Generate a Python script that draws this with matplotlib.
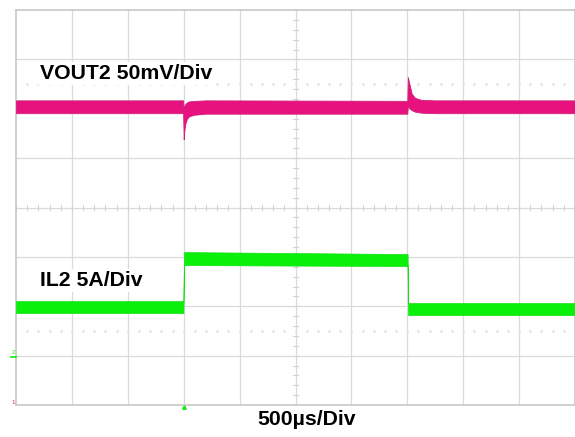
import matplotlib
matplotlib.use("Agg")
import matplotlib.pyplot as plt
import numpy as np

# ---- data (in scope divisions; x: 0..10 div, y: 0..8 div) ----
vout_t  = [0.00, 2.99, 3.00, 3.01, 3.03, 3.06, 3.10, 3.20, 3.40, 7.00, 7.01, 7.03, 7.08, 7.14, 7.25, 7.50, 10.00]
vout_hi = [6.17, 6.17, 5.95, 6.05, 6.10, 6.13, 6.15, 6.16, 6.17, 6.16, 6.64, 6.54, 6.30, 6.22, 6.18, 6.17, 6.17]
vout_lo = [5.91, 5.91, 5.38, 5.55, 5.70, 5.80, 5.85, 5.88, 5.90, 5.90, 6.07, 6.02, 5.97, 5.94, 5.92, 5.91, 5.91]

il_t  = [0.00, 2.995, 3.005, 7.005, 7.015, 10.00]
il_hi = [2.105, 2.105, 3.097, 3.057, 2.065, 2.065]
il_lo = [1.862, 1.862, 2.834, 2.814, 1.822, 1.822]

label_vout = "VOUT2 50mV/Div"
label_il = "IL2 5A/Div"
label_time = "500µs/Div"

n_xdiv, n_ydiv = 10, 8

plt.rcParams['font.family'] = ['Liberation Sans', 'DejaVu Sans']

fig = plt.figure(figsize=(5.75, 4.37), dpi=100)
W, H = 575, 437
ax = fig.add_axes([16 / W, (H - 405) / H, 559 / W, 395 / H])
ax.set_xlim(0, n_xdiv)
ax.set_ylim(0, n_ydiv)
ax.set_xticks([])
ax.set_yticks([])
for s in ax.spines.values():
    s.set_color('#c8c8c8')
    s.set_linewidth(1.2)

grid_c = '#dadada'
for i in range(1, n_xdiv):
    ax.axvline(i, color=grid_c, lw=0.9, zorder=1)
for j in range(1, n_ydiv):
    ax.axhline(j, color=grid_c, lw=0.9, zorder=1)

# center cross minor ticks
cx, cy = n_xdiv / 2, n_ydiv / 2
tick_c = '#d4d4d4'
for k in np.arange(0, n_ydiv + 0.001, 0.2):
    ax.plot([cx - 0.05, cx + 0.05], [k, k], color=tick_c, lw=0.8, zorder=1)
for k in np.arange(0, n_xdiv + 0.001, 0.2):
    ax.plot([k, k], [cy - 0.06, cy + 0.06], color=tick_c, lw=0.8, zorder=1)

# faint dotted rows
for yy in (6.5, 1.5):
    xs = np.arange(0.2, n_xdiv, 0.2)
    ax.plot(xs, np.full_like(xs, yy), linestyle='none', marker='s', ms=0.8,
            color='#e2e2e2', zorder=1)

# traces
mag = '#e8127f'
grn = '#0af00a'
ax.fill_between(vout_t, vout_lo, vout_hi, color=mag, lw=0.6, edgecolor='#d0207a', zorder=3)
ax.fill_between(il_t, il_lo, il_hi, color=grn, lw=0.5, edgecolor='#10e010', zorder=3)

# labels
fs = 15.3
fig.text(40 / W, 1 - 73.5 / H, label_vout, fontsize=fs, fontweight='bold',
         va='center', ha='left', zorder=5,
         bbox=dict(facecolor='white', edgecolor='none', pad=1.5))
fig.text(40 / W, 1 - 280.5 / H, label_il, fontsize=fs, fontweight='bold',
         va='center', ha='left', zorder=5,
         bbox=dict(facecolor='white', edgecolor='none', pad=1.5))
fig.text(307 / W, 1 - 419.5 / H, label_time, fontsize=fs, fontweight='bold',
         va='center', ha='center')

# channel ground markers on the left
fig.text(13 / W, 1 - 352 / H, "2", fontsize=4.5, color='#40d040', ha='center', va='center')
fig.lines.append(plt.Line2D([11 / W, 16 / W], [1 - 357 / H, 1 - 357 / H],
                            transform=fig.transFigure, color=grn, lw=1.2))
fig.text(13 / W, 1 - 402 / H, "1", fontsize=4.5, color='#e0207f', ha='center', va='center')
# trigger marker
fig.lines.append(plt.Line2D([184 / W], [1 - 406.5 / H], transform=fig.transFigure,
                            marker='^', ms=2.5, color=grn, linestyle='none'))

fig.savefig('out.png', dpi=100, facecolor='white')
